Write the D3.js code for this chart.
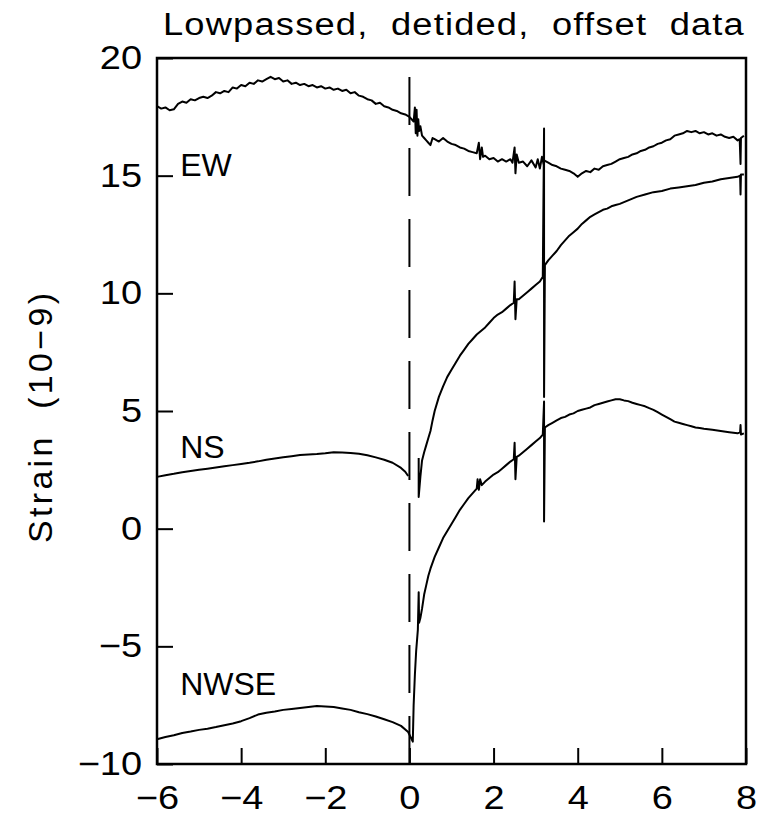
<!DOCTYPE html>
<html>
<head>
<meta charset="utf-8">
<script src="https://cdn.jsdelivr.net/npm/d3@7"></script>
<style>
  body { margin: 0; background: #fff; }
  svg text { font-family: "Liberation Sans", Arial, sans-serif; fill: #000; }
</style>
</head>
<body>
<svg id="chart" width="769" height="816"></svg>
<script>
// strain records, x in hours relative to the event, strain in 1e-9
var ewData = [[-6.0,17.95],[-5.9,17.85],[-5.8,17.9],[-5.7,17.78],[-5.6,17.82],[-5.5,18.05],[-5.4,18.15],[-5.3,18.1],[-5.2,18.25],[-5.1,18.2],[-5.0,18.3],[-4.9,18.35],[-4.8,18.3],[-4.7,18.4],[-4.6,18.55],[-4.5,18.5],[-4.4,18.6],[-4.3,18.55],[-4.2,18.75],[-4.1,18.7],[-4.0,18.85],[-3.9,18.8],[-3.8,18.95],[-3.7,18.9],[-3.6,19.05],[-3.5,19.0],[-3.4,19.1],[-3.3,19.2],[-3.2,19.1],[-3.1,19.15],[-3.0,19.0],[-2.9,19.05],[-2.8,18.9],[-2.7,18.95],[-2.6,18.85],[-2.5,18.9],[-2.4,18.8],[-2.3,18.85],[-2.2,18.75],[-2.1,18.8],[-2.0,18.7],[-1.9,18.75],[-1.8,18.65],[-1.7,18.7],[-1.6,18.6],[-1.5,18.65],[-1.4,18.5],[-1.3,18.55],[-1.2,18.4],[-1.1,18.35],[-1.0,18.25],[-0.9,18.2],[-0.8,18.05],[-0.7,18.1],[-0.6,17.95],[-0.5,17.9],[-0.4,17.8],[-0.3,17.75],[-0.2,17.65],[-0.1,17.6],[0.0,17.5],
  [0.1,17.3],[0.13,17.9],[0.15,16.8],[0.17,17.8],[0.19,16.7],[0.21,17.4],[0.23,16.9],[0.26,17.1],[0.3,16.7],[0.35,16.6],[0.4,16.5],[0.45,16.4],[0.5,16.3],[0.55,16.6],[0.6,16.55],[0.7,16.45],[0.8,16.6],[0.9,16.45],[1.0,16.35],[1.1,16.3],[1.2,16.2],[1.3,16.15],[1.4,16.05],[1.5,16.0],[1.6,15.95],[1.65,16.4],[1.68,15.7],[1.72,16.2],[1.75,15.8],[1.8,15.85],[1.9,15.7],[2.0,15.75],[2.1,15.6],[2.2,15.7],[2.3,15.6],[2.4,15.7],[2.45,15.55],[2.5,16.2],[2.52,15.1],[2.55,15.9],[2.6,15.55],[2.7,15.6],[2.8,15.4],[2.9,15.65],[3.0,15.35],[3.05,15.7],[3.1,15.3],[3.15,15.8],[3.19,15.5],[3.2,15.65],[3.3,15.55],[3.4,15.45],[3.5,15.4],[3.6,15.3],[3.7,15.25],[3.8,15.2],[3.9,15.1],[4.0,14.95],[4.1,15.1],[4.2,15.2],[4.3,15.15],[4.4,15.3],[4.5,15.25],[4.6,15.4],[4.7,15.45],[4.8,15.5],[4.9,15.6],[5.0,15.7],[5.1,15.75],[5.2,15.8],[5.3,15.9],[5.4,15.95],[5.5,16.05],[5.6,16.1],[5.7,16.2],[5.8,16.25],[5.9,16.35],[6.0,16.4],[6.1,16.5],[6.2,16.55],[6.3,16.7],[6.4,16.75],[6.5,16.8],[6.6,16.9],[6.7,16.85],[6.8,16.9],[6.9,16.8],[7.0,16.85],[7.1,16.75],[7.2,16.8],[7.3,16.7],[7.4,16.75],[7.5,16.65],[7.6,16.6],[7.7,16.65],[7.8,16.5],[7.85,16.55],[7.87,15.5],[7.88,16.6],[7.95,16.7]];

var nsData = [[-6.0,2.2],[-5.8,2.27],[-5.6,2.33],[-5.4,2.4],[-5.2,2.45],[-5.0,2.5],[-4.8,2.55],[-4.6,2.6],[-4.4,2.65],[-4.2,2.7],[-4.0,2.75],[-3.8,2.8],[-3.6,2.86],[-3.4,2.93],[-3.2,2.98],[-3.0,3.03],[-2.8,3.08],[-2.6,3.13],[-2.4,3.15],[-2.2,3.17],[-2.0,3.2],[-1.8,3.25],[-1.6,3.24],[-1.4,3.22],[-1.2,3.18],[-1.0,3.12],[-0.8,3.03],[-0.6,2.93],[-0.4,2.8],[-0.2,2.58],[-0.1,2.42],[-0.03,2.24],
  null,
  [0.22,3.0],[0.22,1.35],[0.26,2.2],[0.3,2.9],[0.35,3.25],[0.4,3.55],[0.45,3.85],[0.5,4.15],[0.55,4.6],[0.6,5.0],[0.7,5.6],[0.8,6.05],[0.9,6.45],[1.0,6.75],[1.1,7.05],[1.2,7.35],[1.3,7.6],[1.4,7.85],[1.5,8.05],[1.6,8.25],[1.7,8.4],[1.8,8.55],[1.9,8.75],[2.0,8.95],[2.1,9.1],[2.2,9.2],[2.3,9.35],[2.4,9.5],[2.48,9.6],[2.5,10.5],[2.52,8.9],[2.55,9.75],[2.6,9.75],[2.7,9.9],[2.8,10.05],[2.9,10.2],[3.0,10.35],[3.1,10.5],[3.17,10.7],[3.2,17.0],[3.2,5.6],[3.22,11.2],[3.3,11.4],[3.4,11.6],[3.5,11.8],[3.6,12.05],[3.7,12.25],[3.8,12.45],[3.9,12.6],[4.0,12.75],[4.1,12.95],[4.2,13.1],[4.3,13.25],[4.4,13.35],[4.5,13.45],[4.6,13.55],[4.7,13.6],[4.8,13.7],[4.9,13.75],[5.0,13.8],[5.2,13.95],[5.4,14.1],[5.6,14.2],[5.8,14.3],[6.0,14.35],[6.2,14.45],[6.4,14.5],[6.6,14.55],[6.8,14.6],[7.0,14.7],[7.2,14.75],[7.4,14.85],[7.6,14.9],[7.8,14.95],[7.86,15.0],[7.87,14.2],[7.88,15.05],[7.95,15.05]];

var nwseData = [[-6.0,-8.95],[-5.8,-8.85],[-5.6,-8.78],[-5.4,-8.68],[-5.2,-8.62],[-5.0,-8.55],[-4.8,-8.5],[-4.6,-8.43],[-4.4,-8.35],[-4.2,-8.28],[-4.0,-8.18],[-3.8,-8.05],[-3.6,-7.9],[-3.4,-7.82],[-3.2,-7.77],[-3.0,-7.7],[-2.8,-7.66],[-2.6,-7.62],[-2.4,-7.58],[-2.2,-7.54],[-2.0,-7.56],[-1.8,-7.58],[-1.6,-7.64],[-1.4,-7.7],[-1.2,-7.8],[-1.0,-7.88],[-0.8,-7.98],[-0.6,-8.1],[-0.4,-8.22],[-0.2,-8.38],[-0.03,-8.64],
  [0.08,-9.05],[0.1,-7.5],[0.13,-6.2],[0.16,-5.2],[0.2,-4.3],[0.22,-2.7],[0.23,-4.0],[0.26,-3.8],[0.3,-3.4],[0.35,-2.8],[0.4,-2.4],[0.45,-2.0],[0.5,-1.7],[0.6,-1.2],[0.7,-0.8],[0.8,-0.4],[0.9,-0.1],[1.0,0.2],[1.1,0.5],[1.2,0.8],[1.3,1.05],[1.4,1.3],[1.5,1.5],[1.6,1.7],[1.62,2.1],[1.65,1.65],[1.68,2.1],[1.72,1.85],[1.8,2.0],[1.9,2.15],[2.0,2.3],[2.1,2.4],[2.2,2.55],[2.3,2.7],[2.4,2.85],[2.48,2.95],[2.5,3.65],[2.52,2.1],[2.55,3.05],[2.6,3.1],[2.7,3.25],[2.8,3.4],[2.9,3.55],[3.0,3.7],[3.1,3.85],[3.17,4.0],[3.2,5.4],[3.2,0.3],[3.22,4.3],[3.3,4.4],[3.4,4.5],[3.5,4.6],[3.6,4.7],[3.7,4.75],[3.8,4.85],[3.9,4.9],[4.0,5.0],[4.1,5.05],[4.2,5.1],[4.3,5.15],[4.4,5.25],[4.5,5.3],[4.6,5.35],[4.7,5.4],[4.8,5.45],[4.9,5.5],[5.0,5.5],[5.1,5.45],[5.2,5.42],[5.3,5.35],[5.4,5.3],[5.5,5.25],[5.6,5.2],[5.7,5.12],[5.8,5.05],[5.9,4.95],[6.0,4.85],[6.1,4.75],[6.2,4.65],[6.3,4.55],[6.4,4.5],[6.5,4.45],[6.6,4.4],[6.7,4.35],[6.8,4.3],[6.9,4.28],[7.0,4.25],[7.2,4.2],[7.4,4.15],[7.6,4.1],[7.8,4.05],[7.86,4.1],[7.87,4.4],[7.88,4.0],[7.95,4.05]];

var seriesNames = ["EW", "NS", "NWSE"];
var labelPos = [[-5.45, 15], [-5.45, 3.0], [-5.45, -7.05]];   // where the channel names sit
var xTicks = [-6, -4, -2, 0, 2, 4, 6, 8];
var yTicks = [-10, -5, 0, 5, 10, 15, 20];
var eventTime = 0;

var svg = d3.select("#chart");
var margin = {top: 58, right: 23, bottom: 52, left: 157},
    width = +svg.attr("width") - margin.left - margin.right,
    height = +svg.attr("height") - margin.top - margin.bottom;

var g = svg.append("g").attr("transform", "translate(" + margin.left + "," + margin.top + ")");

var x = d3.scaleLinear().domain([-6, 8]).range([0, width]);
var y = d3.scaleLinear().domain([-10, 20]).range([height, 0]);

var stretch = 1.15;   // tick labels are a bit wider than Liberation's glyphs

// axes, ticks pointing inward
var xAxis = g.append("g")
    .attr("transform", "translate(0," + height + ")")
    .call(d3.axisBottom(x).tickValues(xTicks).tickSizeInner(-16).tickSizeOuter(0).tickPadding(22));
var yAxis = g.append("g")
    .call(d3.axisLeft(y).tickValues(yTicks).tickSizeInner(-16).tickSizeOuter(0).tickPadding(15 / stretch));

[xAxis, yAxis].forEach(function(a) {
    a.select(".domain").remove();
    a.selectAll("line").attr("stroke", "#000").attr("stroke-width", 2);
    a.selectAll("text")
        .attr("font-size", 33)
        .attr("font-family", null)
        .attr("fill", "#000")
        .attr("transform", "scale(" + stretch + ",1)");
});

// frame
g.append("rect")
    .attr("width", width)
    .attr("height", height)
    .attr("fill", "none")
    .attr("stroke", "#000")
    .attr("stroke-width", 2.5);

// event marker
g.append("line")
    .attr("x1", x(eventTime)).attr("x2", x(eventTime))
    .attr("y1", y(-10)).attr("y2", y(20))
    .attr("stroke", "#000")
    .attr("stroke-width", 2)
    .attr("stroke-dasharray", "48,23");

var line = d3.line()
    .defined(function(d) { return d !== null; })
    .x(function(d) { return x(d[0]); })
    .y(function(d) { return y(d[1]); });

[ewData, nsData, nwseData].forEach(function(s) {
    g.append("path")
        .datum(s)
        .attr("fill", "none")
        .attr("stroke", "#000")
        .attr("stroke-width", 2)
        .attr("stroke-linejoin", "round")
        .attr("d", line);
});

g.selectAll(".lab")
    .data(seriesNames)
    .enter().append("text")
    .attr("class", "lab")
    .attr("x", function(d, i) { return x(labelPos[i][0]); })
    .attr("y", function(d, i) { return y(labelPos[i][1]); })
    .attr("font-size", 32)
    .text(function(d) { return d; });

// title
svg.append("text")
    .attr("x", 163)
    .attr("y", 35)
    .attr("font-size", 31)
    .attr("letter-spacing", 1)
    .attr("textLength", 582)
    .attr("lengthAdjust", "spacingAndGlyphs")
    .text("Lowpassed,\u00a0 detided,\u00a0 offset\u00a0 data");

// y label
svg.append("text")
    .attr("transform", "translate(52,418) rotate(-90)")
    .attr("text-anchor", "middle")
    .attr("font-size", 34)
    .attr("textLength", 250)
    .attr("lengthAdjust", "spacing")
    .text("Strain\u00a0 (10\u22129)");
</script>
</body>
</html>
